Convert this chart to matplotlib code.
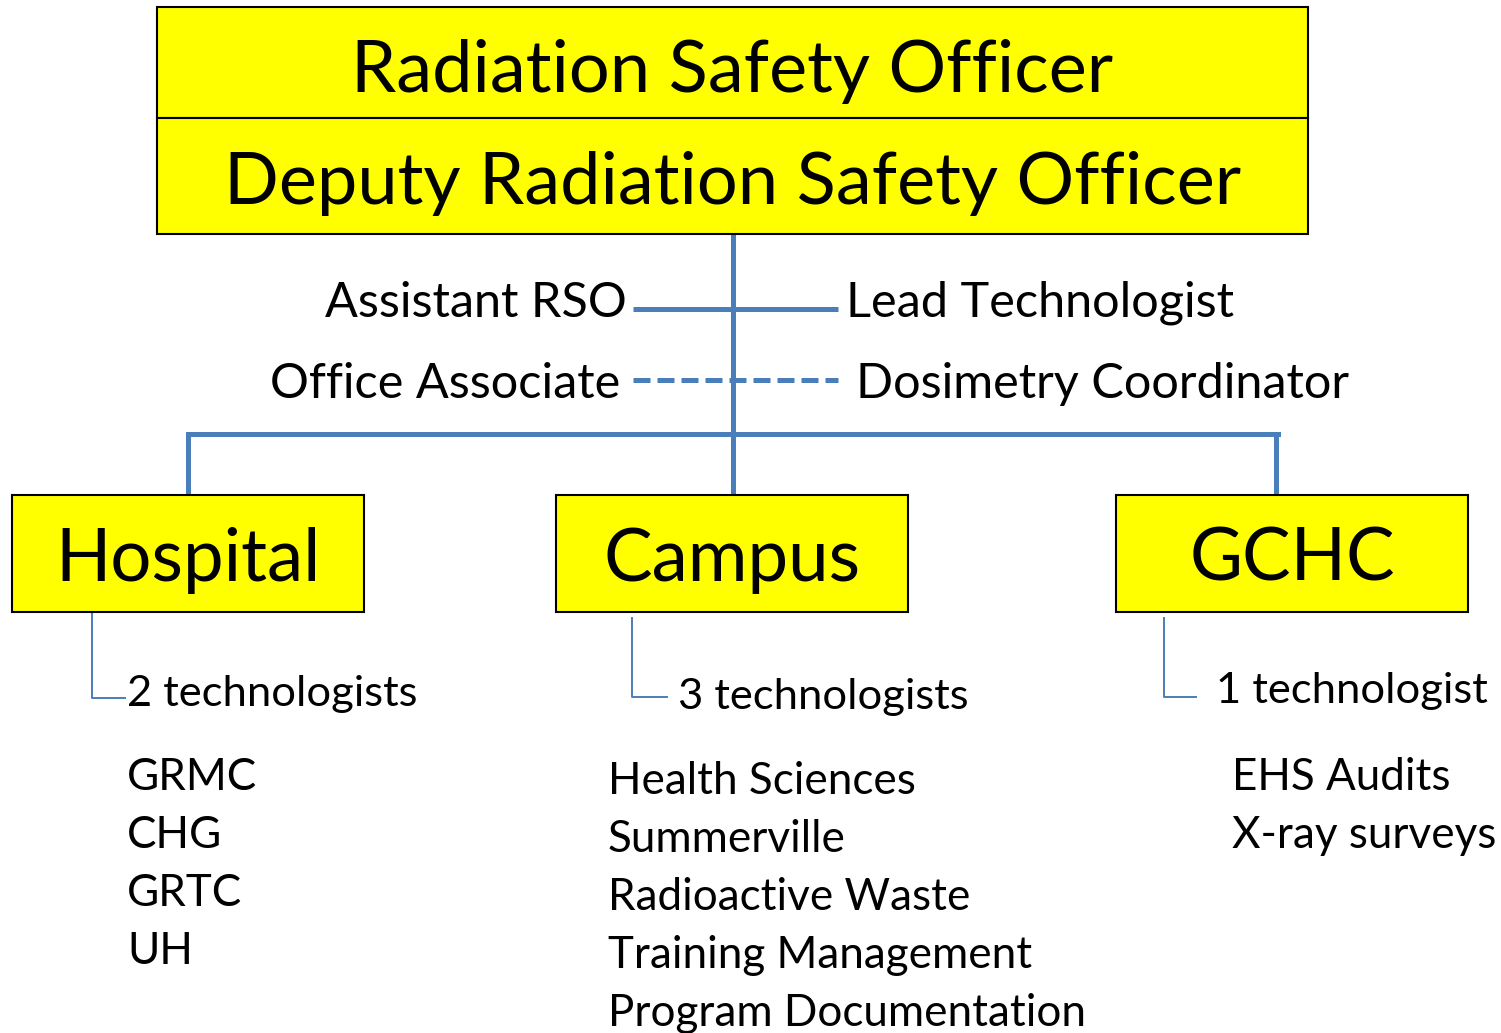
import matplotlib
matplotlib.use("Agg")
import matplotlib.pyplot as plt
from matplotlib.patches import Rectangle

FONT = "Lato"
BLUE = "#4A7EBB"
YELLOW = "#FFFF00"

top_titles = ["Radiation Safety Officer", "Deputy Radiation Safety Officer"]
left_roles = ["Assistant RSO", "Office Associate"]
right_roles = ["Lead Technologist", "Dosimetry Coordinator"]
role_dashed = [False, True]
units = ["Hospital", "Campus", "GCHC"]
staff = ["2 technologists", "3 technologists", "1 technologist"]
duties = [
    ["GRMC", "CHG", "GRTC", "UH"],
    ["Health Sciences", "Summerville", "Radioactive Waste", "Training Management", "Program Documentation"],
    ["EHS Audits", "X-ray surveys"],
]

W, H = 1501, 1033
fig = plt.figure(figsize=(W / 100, H / 100), dpi=100)
ax = fig.add_axes([0, 0, 1, 1])
ax.set_xlim(0, W)
ax.set_ylim(H, 0)
ax.axis("off")
renderer = fig.canvas.get_renderer()


def fit_size(text, target_w, base=30):
    t = ax.text(0, 0, text, fontsize=base, family=FONT)
    w = t.get_window_extent(renderer).width
    t.remove()
    return base * target_w / w


size_title = fit_size(top_titles[1], 1015)
size_unit = fit_size("Campus", 257)
size_role = fit_size("Dosimetry Coordinator", 493)
size_staff = fit_size("3 technologists", 290)
size_list = fit_size("Program Documentation", 477)

# Top boxes
title_boxes = [(157, 7, 1151, 111, 71), (157, 118, 1151, 116, 183)]
for (x, y, w, h, ty), label in zip(title_boxes, top_titles):
    ax.add_patch(Rectangle((x, y), w, h, facecolor=YELLOW, edgecolor="black", lw=1.5, zorder=2))
    ax.text(x + w / 2, ty, label, ha="center", va="center", fontsize=size_title, family=FONT, zorder=3)

lw_main = 3.6
# trunk
ax.plot([733, 733], [234, 495], color=BLUE, lw=lw_main, solid_capstyle="butt", zorder=1)
role_y = [309, 380]
role_text_y = [303, 384]
for y, ty, l, r, dashed in zip(role_y, role_text_y, left_roles, right_roles, role_dashed):
    ax.plot([633, 838], [y, y], color=BLUE, lw=lw_main, solid_capstyle="butt",
            dash_capstyle="butt", linestyle=(0, (3.4, 1.4)) if dashed else "-", zorder=1)
    ax.text(627 if not dashed else 620, ty, l, ha="right", va="center", fontsize=size_role, family=FONT)
    ax.text(846 if not dashed else 856, ty, r, ha="left", va="center", fontsize=size_role, family=FONT)

# horizontal bus
ax.plot([188, 1278], [434, 434], color=BLUE, lw=lw_main, solid_capstyle="projecting", zorder=1)
unit_x = [12, 556, 1116]
drop_x = [188, 733, 1276]
for dx in drop_x:
    ax.plot([dx, dx], [434, 495], color=BLUE, lw=lw_main, solid_capstyle="butt", zorder=1)

staff_conn = [(92, 612, 698, 125), (632, 618, 697, 667), (1164, 618, 697, 1196)]
staff_text = [(127, 694), (678, 697), (1216, 691)]
list_pos = [(127, 778), (608, 782), (1232, 778)]
for i, (ux, name) in enumerate(zip(unit_x, units)):
    ax.add_patch(Rectangle((ux, 495), 352, 117, facecolor=YELLOW, edgecolor="black", lw=1.5, zorder=2))
    ax.text(ux + 176, 560, name, ha="center", va="center", fontsize=size_unit, family=FONT, zorder=3)
    cx, y0, y1, x1 = staff_conn[i]
    ax.plot([cx, cx, x1], [y0, y1, y1], color=BLUE, lw=1.4, zorder=1)
    sx, sy = staff_text[i]
    ax.text(sx, sy, staff[i], ha="left", va="center", fontsize=size_staff, family=FONT)
    lx, ly = list_pos[i]
    for j, item in enumerate(duties[i]):
        ax.text(lx, ly + j * 58, item, ha="left", va="center", fontsize=size_list, family=FONT)

fig.savefig("out.png", dpi=100, facecolor="white")
